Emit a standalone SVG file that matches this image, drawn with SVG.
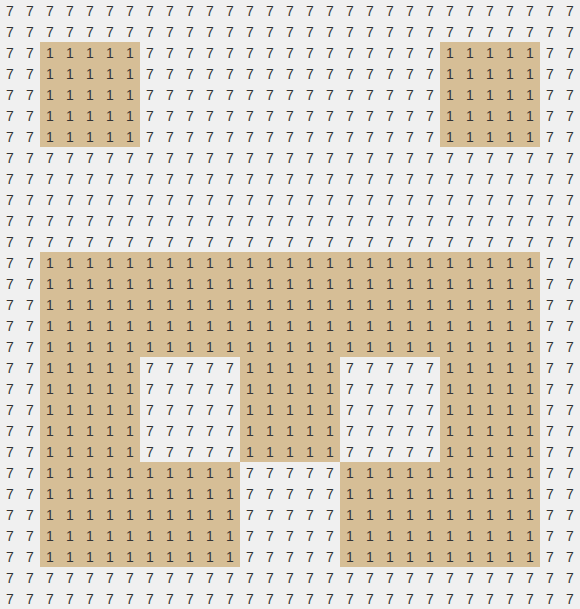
<svg xmlns="http://www.w3.org/2000/svg" width="580" height="609" viewBox="0 0 580 609">
<style>
.bg{fill:#f0f0f0}
.land{fill:#d6be96}
.d{font-family:"Liberation Sans",Arial,sans-serif;font-size:14px;fill:#333333;text-anchor:middle}
</style>
<rect class="bg" x="0" y="0" width="580" height="609"/>
<g id="regions">
<g id="region-top-left"><rect class="land" x="40" y="42" width="100" height="105"/></g>
<g id="region-top-right"><rect class="land" x="440" y="42" width="100" height="105"/></g>
<g id="region-bottom"><path class="land" fill-rule="evenodd" d="M40,252H540V567H340V462H240V567H40Z M140,357V462H240V357Z M340,357V462H440V357Z"/></g>
</g>
<g id="cells">
<text class="d" y="16" x="10 30 50 70 90 110 130 150 170 190 210 230 250 270 290 310 330 350 370 390 410 430 450 470 490 510 530 550 570">77777777777777777777777777777</text>
<text class="d" y="37" x="10 30 50 70 90 110 130 150 170 190 210 230 250 270 290 310 330 350 370 390 410 430 450 470 490 510 530 550 570">77777777777777777777777777777</text>
<text class="d" y="58" x="10 30 50 70 90 110 130 150 170 190 210 230 250 270 290 310 330 350 370 390 410 430 450 470 490 510 530 550 570">77111117777777777777771111177</text>
<text class="d" y="79" x="10 30 50 70 90 110 130 150 170 190 210 230 250 270 290 310 330 350 370 390 410 430 450 470 490 510 530 550 570">77111117777777777777771111177</text>
<text class="d" y="100" x="10 30 50 70 90 110 130 150 170 190 210 230 250 270 290 310 330 350 370 390 410 430 450 470 490 510 530 550 570">77111117777777777777771111177</text>
<text class="d" y="121" x="10 30 50 70 90 110 130 150 170 190 210 230 250 270 290 310 330 350 370 390 410 430 450 470 490 510 530 550 570">77111117777777777777771111177</text>
<text class="d" y="142" x="10 30 50 70 90 110 130 150 170 190 210 230 250 270 290 310 330 350 370 390 410 430 450 470 490 510 530 550 570">77111117777777777777771111177</text>
<text class="d" y="163" x="10 30 50 70 90 110 130 150 170 190 210 230 250 270 290 310 330 350 370 390 410 430 450 470 490 510 530 550 570">77777777777777777777777777777</text>
<text class="d" y="184" x="10 30 50 70 90 110 130 150 170 190 210 230 250 270 290 310 330 350 370 390 410 430 450 470 490 510 530 550 570">77777777777777777777777777777</text>
<text class="d" y="205" x="10 30 50 70 90 110 130 150 170 190 210 230 250 270 290 310 330 350 370 390 410 430 450 470 490 510 530 550 570">77777777777777777777777777777</text>
<text class="d" y="226" x="10 30 50 70 90 110 130 150 170 190 210 230 250 270 290 310 330 350 370 390 410 430 450 470 490 510 530 550 570">77777777777777777777777777777</text>
<text class="d" y="247" x="10 30 50 70 90 110 130 150 170 190 210 230 250 270 290 310 330 350 370 390 410 430 450 470 490 510 530 550 570">77777777777777777777777777777</text>
<text class="d" y="268" x="10 30 50 70 90 110 130 150 170 190 210 230 250 270 290 310 330 350 370 390 410 430 450 470 490 510 530 550 570">77111111111111111111111111177</text>
<text class="d" y="289" x="10 30 50 70 90 110 130 150 170 190 210 230 250 270 290 310 330 350 370 390 410 430 450 470 490 510 530 550 570">77111111111111111111111111177</text>
<text class="d" y="310" x="10 30 50 70 90 110 130 150 170 190 210 230 250 270 290 310 330 350 370 390 410 430 450 470 490 510 530 550 570">77111111111111111111111111177</text>
<text class="d" y="331" x="10 30 50 70 90 110 130 150 170 190 210 230 250 270 290 310 330 350 370 390 410 430 450 470 490 510 530 550 570">77111111111111111111111111177</text>
<text class="d" y="352" x="10 30 50 70 90 110 130 150 170 190 210 230 250 270 290 310 330 350 370 390 410 430 450 470 490 510 530 550 570">77111111111111111111111111177</text>
<text class="d" y="373" x="10 30 50 70 90 110 130 150 170 190 210 230 250 270 290 310 330 350 370 390 410 430 450 470 490 510 530 550 570">77111117777711111777771111177</text>
<text class="d" y="394" x="10 30 50 70 90 110 130 150 170 190 210 230 250 270 290 310 330 350 370 390 410 430 450 470 490 510 530 550 570">77111117777711111777771111177</text>
<text class="d" y="415" x="10 30 50 70 90 110 130 150 170 190 210 230 250 270 290 310 330 350 370 390 410 430 450 470 490 510 530 550 570">77111117777711111777771111177</text>
<text class="d" y="436" x="10 30 50 70 90 110 130 150 170 190 210 230 250 270 290 310 330 350 370 390 410 430 450 470 490 510 530 550 570">77111117777711111777771111177</text>
<text class="d" y="457" x="10 30 50 70 90 110 130 150 170 190 210 230 250 270 290 310 330 350 370 390 410 430 450 470 490 510 530 550 570">77111117777711111777771111177</text>
<text class="d" y="478" x="10 30 50 70 90 110 130 150 170 190 210 230 250 270 290 310 330 350 370 390 410 430 450 470 490 510 530 550 570">77111111111177777111111111177</text>
<text class="d" y="499" x="10 30 50 70 90 110 130 150 170 190 210 230 250 270 290 310 330 350 370 390 410 430 450 470 490 510 530 550 570">77111111111177777111111111177</text>
<text class="d" y="520" x="10 30 50 70 90 110 130 150 170 190 210 230 250 270 290 310 330 350 370 390 410 430 450 470 490 510 530 550 570">77111111111177777111111111177</text>
<text class="d" y="541" x="10 30 50 70 90 110 130 150 170 190 210 230 250 270 290 310 330 350 370 390 410 430 450 470 490 510 530 550 570">77111111111177777111111111177</text>
<text class="d" y="562" x="10 30 50 70 90 110 130 150 170 190 210 230 250 270 290 310 330 350 370 390 410 430 450 470 490 510 530 550 570">77111111111177777111111111177</text>
<text class="d" y="583" x="10 30 50 70 90 110 130 150 170 190 210 230 250 270 290 310 330 350 370 390 410 430 450 470 490 510 530 550 570">77777777777777777777777777777</text>
<text class="d" y="604" x="10 30 50 70 90 110 130 150 170 190 210 230 250 270 290 310 330 350 370 390 410 430 450 470 490 510 530 550 570">77777777777777777777777777777</text>
</g>
</svg>
